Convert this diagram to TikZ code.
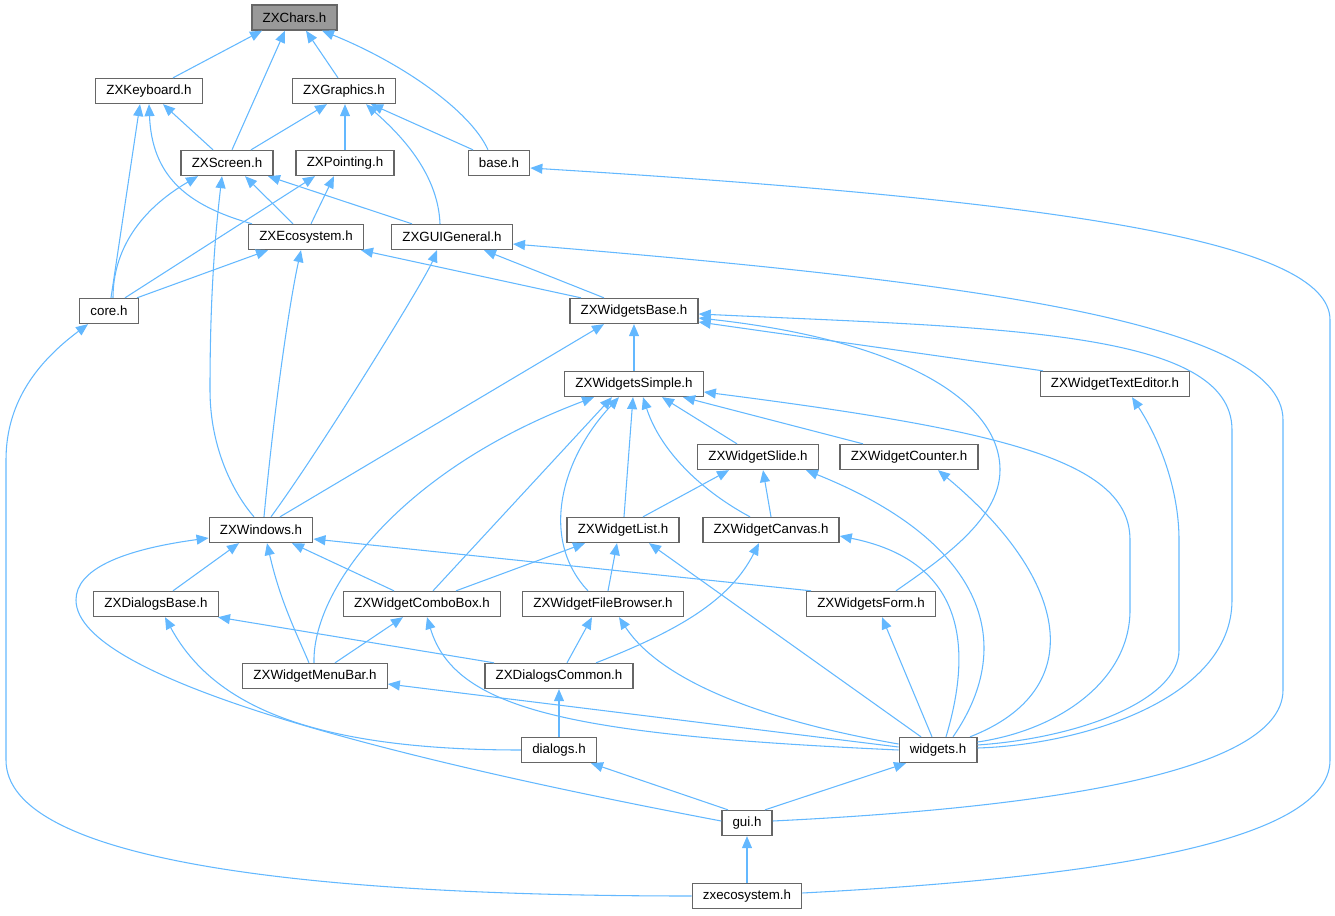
\documentclass[tikz,border=0pt]{standalone}
\usepackage{fontspec}
\setmainfont{Liberation Sans}
\usetikzlibrary{arrows.meta}
\definecolor{linkblue}{RGB}{99,184,255}
\definecolor{boxgray}{RGB}{102,102,102}
\definecolor{selgray}{RGB}{153,153,153}
\tikzset{every picture/.style={line width=0.75pt}}
\tikzset{
  file/.style={draw=boxgray, fill=white, line width=1pt, minimum height=18.75pt,
    inner xsep=8pt, inner ysep=0pt, font=\fontsize{10}{12}\selectfont},
  selfile/.style={file, fill=selgray},
  incl/.style={draw=linkblue, line width=0.8pt, {Triangle[length=9pt,width=7.5pt]}-}
}
\begin{document}
\begin{tikzpicture}[x=0.75pt,y=0.75pt,yscale=-1,xscale=1]
\useasboundingbox (0,0) rectangle (1335,916);

% Nodes
\node[selfile] (chars) at (294.5,17.5) {ZXChars.h};
\node[file] (keyboard) at (149,91) {ZXKeyboard.h};
\node[file] (graphics) at (344,91) {ZXGraphics.h};
\node[file] (screen) at (227,163) {ZXScreen.h};
\node[file] (pointing) at (345,163) {ZXPointing.h};
\node[file] (base) at (499,163) {base.h};
\node[file] (ecosys) at (306,237) {ZXEcosystem.h};
\node[file] (guigen) at (452,237) {ZXGUIGeneral.h};
\node[file] (core) at (109,311) {core.h};
\node[file] (wbase) at (634,311) {ZXWidgetsBase.h};
\node[file] (wsimple) at (634,384) {ZXWidgetsSimple.h};
\node[file] (texted) at (1115,384) {ZXWidgetTextEditor.h};
\node[file] (slide) at (758,457) {ZXWidgetSlide.h};
\node[file] (counter) at (909,457) {ZXWidgetCounter.h};
\node[file] (windows) at (261,530) {ZXWindows.h};
\node[file] (wlist) at (623,530) {ZXWidgetList.h};
\node[file] (canvas) at (771,530) {ZXWidgetCanvas.h};
\node[file] (dlgbase) at (156,604) {ZXDialogsBase.h};
\node[file] (combo) at (422,604) {ZXWidgetComboBox.h};
\node[file] (browser) at (603,604) {ZXWidgetFileBrowser.h};
\node[file] (wform) at (871,604) {ZXWidgetsForm.h};
\node[file] (menubar) at (315,676) {ZXWidgetMenuBar.h};
\node[file] (dlgcommon) at (559,676) {ZXDialogsCommon.h};
\node[file] (dialogs) at (559,750) {dialogs.h};
\node[file] (widgets) at (938,750) {widgets.h};
\node[file] (gui) at (747,823) {gui.h};
\node[file] (zxeco) at (747,896) {zxecosystem.h};

% ZXChars.h
\draw[incl] (chars.south -| 262,0) -- (keyboard.north -| 173,0);
\draw[incl] (chars.south -| 285,0) -- (screen.north -| 232,0);
\draw[incl] (chars.south -| 306,0) -- (graphics.north -| 338,0);
\draw[incl] (chars.south -| 322,0) .. controls (400,62) and (470,110) .. (base.north -| 488,0);
% ZXKeyboard.h
\draw[incl] (keyboard.south -| 163,0) -- (screen.north -| 213,0);
\draw[incl] (keyboard.south -| 149,0) .. controls (152,175) and (185,205) .. (ecosys.north -| 252,0);
\draw[incl] (keyboard.south -| 140,0) -- (core.north -| 111,0);
% ZXGraphics.h
\draw[incl] (graphics.south -| 327,0) -- (screen.north -| 251,0);
\draw[incl] (graphics.south -| 345,0) -- (pointing.north -| 345,0);
\draw[incl] (graphics.south -| 371,0) -- (base.north -| 473,0);
\draw[incl] (graphics.south -| 366,0) .. controls (395,130) and (438,170) .. (guigen.north -| 440,0);
% ZXScreen.h
\draw[incl] (screen.south -| 198,0) .. controls (140,210) and (113,250) .. (core.north -| 113,0);
\draw[incl] (screen.south -| 245,0) -- (ecosys.north -| 293,0);
\draw[incl] (screen.south -| 268,0) -- (guigen.north -| 412,0);
\draw[incl] (screen.south -| 222,0) .. controls (212,260) and (210,330) .. (210,390)
  .. controls (210,450) and (235,495) .. (windows.north -| 254,0);
% ZXPointing.h
\draw[incl] (pointing.south -| 315,0) -- (core.north -| 125,0);
\draw[incl] (pointing.south -| 334,0) -- (ecosys.north -| 311,0);
% base.h
\draw[incl] (base.east |- 0,168) .. controls (1050,200) and (1330,240) .. (1330,320)
  -- (1330,760) .. controls (1330,850) and (1050,880) .. (zxeco.east |- 0,893);
% ZXEcosystem.h
\draw[incl] (ecosys.south -| 268,0) -- (core.north -| 137,0);
\draw[incl] (ecosys.south -| 361,0) -- (wbase.north -| 581,0);
\draw[incl] (ecosys.south -| 301,0) .. controls (290,300) and (275,400) .. (windows.north -| 264,0);
% ZXGUIGeneral.h
\draw[incl] (guigen.south -| 484,0) -- (wbase.north -| 604,0);
\draw[incl] (guigen.south -| 437,0) .. controls (425,280) and (320,450) .. (windows.north -| 271,0);
\draw[incl] (guigen.east |- 0,244) .. controls (950,280) and (1283,320) .. (1283,420)
  -- (1283,690) .. controls (1283,780) and (1000,810) .. (gui.east |- 0,821);
% core.h
\draw[incl] (core.south -| 88,0) .. controls (40,360) and (6,400) .. (6,460)
  -- (6,760) .. controls (6,860) and (300,896) .. (zxeco.west);
% ZXWidgetsBase.h
\draw[incl] (wbase.south -| 634,0) -- (wsimple.north -| 634,0);
\draw[incl] (wbase.south -| 604,0) -- (windows.north -| 280,0);
\draw[incl] (wbase.east |- 0,322) -- (texted.north -| 1043,0);
\draw[incl] (wbase.east |- 0,318) .. controls (900,340) and (1000,400) .. (1000,470)
  .. controls (1000,520) and (940,560) .. (wform.north -| 896,0);
\draw[incl] (wbase.east |- 0,314) .. controls (1000,328) and (1232,330) .. (1232,430)
  -- (1232,600) .. controls (1232,700) and (1080,745) .. (widgets.east |- 0,748);
% ZXWidgetsSimple.h
\draw[incl] (wsimple.south -| 662,0) -- (slide.north -| 737,0);
\draw[incl] (wsimple.south -| 683,0) -- (counter.north -| 863,0);
\draw[incl] (wsimple.south -| 633,0) -- (wlist.north -| 624,0);
\draw[incl] (wsimple.south -| 643,0) .. controls (660,450) and (700,490) .. (canvas.north -| 750,0);
\draw[incl] (wsimple.south -| 612,0) -- (combo.north -| 433,0);
\draw[incl] (wsimple.south -| 619,0) .. controls (560,460) and (540,540) .. (browser.north -| 588,0);
\draw[incl] (wsimple.south -| 594,0) .. controls (400,470) and (312,590) .. (menubar.north -| 314,0);
\draw[incl] (wsimple.east |- 0,392) .. controls (1000,430) and (1130,460) .. (1130,540)
  -- (1130,610) .. controls (1130,680) and (1060,730) .. (widgets.east |- 0,742);
% ZXWidgetTextEditor.h
\draw[incl] (texted.south -| 1132,0) .. controls (1160,440) and (1179,490) .. (1179,540)
  -- (1179,650) .. controls (1179,700) and (1080,738) .. (widgets.east |- 0,745);
% ZXWidgetSlide.h
\draw[incl] (slide.south -| 729,0) -- (wlist.north -| 643,0);
\draw[incl] (slide.south -| 763,0) -- (canvas.north -| 771,0);
\draw[incl] (slide.south -| 806,0) .. controls (980,540) and (1020,640) .. (widgets.north -| 953,0);
% ZXWidgetCounter.h
\draw[incl] (counter.south -| 938,0) .. controls (1070,580) and (1090,690) .. (widgets.north -| 970,0);
% ZXWindows.h
\draw[incl] (windows.south -| 239,0) -- (dlgbase.north -| 173,0);
\draw[incl] (windows.south -| 292,0) -- (combo.north -| 394,0);
\draw[incl] (windows.south -| 267,0) .. controls (280,600) and (295,630) .. (menubar.north -| 309,0);
\draw[incl] (windows.east |- 0,539) -- (wform.north -| 811,0);
\draw[incl] (windows.west |- 0,538) .. controls (120,550) and (76,570) .. (76,600)
  .. controls (76,680) and (400,760) .. (gui.west |- 0,821);
% ZXWidgetList.h
\draw[incl] (wlist.south -| 585,0) -- (combo.north -| 456,0);
\draw[incl] (wlist.south -| 617,0) -- (browser.north -| 608,0);
\draw[incl] (wlist.south -| 649,0) -- (widgets.north -| 921,0);
% ZXWidgetCanvas.h
\draw[incl] (canvas.south -| 759,0) .. controls (730,600) and (680,630) .. (dlgcommon.north -| 596,0);
\draw[incl] (canvas.east |- 0,536) .. controls (960,560) and (975,640) .. (widgets.north -| 946,0);
% ZXDialogsBase.h
\draw[incl] (dlgbase.south -| 218,0) -- (dlgcommon.north -| 494,0);
\draw[incl] (dlgbase.south -| 165,0) .. controls (210,700) and (300,750) .. (dialogs.west);
% ZXWidgetComboBox.h
\draw[incl] (combo.south -| 403,0) -- (menubar.north -| 335,0);
\draw[incl] (combo.south -| 427,0) .. controls (455,710) and (570,735) .. (widgets.west |- 0,750);
% ZXWidgetFileBrowser.h
\draw[incl] (browser.south -| 592,0) -- (dlgcommon.north -| 567,0);
\draw[incl] (browser.south -| 619,0) .. controls (660,680) and (760,720) .. (widgets.west |- 0,744);
% ZXWidgetsForm.h
\draw[incl] (wform.south -| 882,0) -- (widgets.north -| 932,0);
% ZXWidgetMenuBar.h
\draw[incl] (menubar.east |- 0,684) -- (widgets.west |- 0,747);
% ZXDialogsCommon.h
\draw[incl] (dlgcommon.south -| 559,0) -- (dialogs.north -| 559,0);
% dialogs.h
\draw[incl] (dialogs.south -| 591,0) -- (gui.north -| 728,0);
% widgets.h
\draw[incl] (widgets.south -| 906,0) -- (gui.north -| 765,0);
% gui.h
\draw[incl] (gui.south -| 747,0) -- (zxeco.north -| 747,0);

\end{tikzpicture}
\end{document}
